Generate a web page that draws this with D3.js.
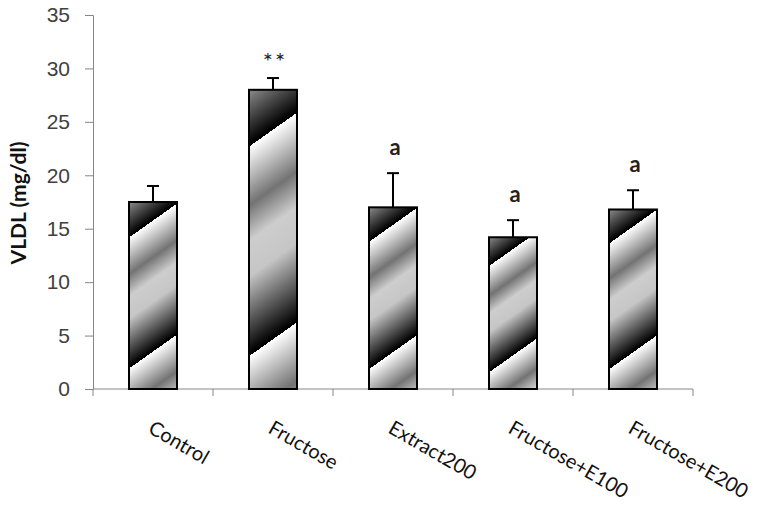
<!DOCTYPE html>
<html>
<head>
<meta charset="utf-8">
<script src="https://cdn.jsdelivr.net/npm/d3@7"></script>
<style>
  body { margin: 0; background: #fff; }
  svg { display: block; font-family: Lato, "Noto Sans", sans-serif; }
</style>
</head>
<body>
<div class="chart"></div>
<script>
var categories = ['Control', 'Fructose', 'Extract200', 'Fructose+E100', 'Fructose+E200'];
var means = [17.5, 28, 17, 14.2, 16.8];
var errors = [1.5, 1.1, 3.2, 1.6, 1.8];
var marks = ['', '**', 'a', 'a', 'a'];
var yTicks = [0, 5, 10, 15, 20, 25, 30, 35];

var width = 762, height = 508;

var svg = d3.select('.chart')
.append('svg')
.attr('width', width)
.attr('height', height);

var x = d3.scaleBand().domain(categories).range([93, 693]).paddingInner(0.6).paddingOuter(0.3);
var y = d3.scaleLinear().domain([0, 35]).range([389, 15]);

// axes
var yAxis = svg.append('g')
.attr('transform', 'translate(93,0)')
.call(d3.axisLeft(y).tickValues(yTicks).tickSize(8).tickPadding(15));
yAxis.select('.domain').attr('stroke', '#868686');
yAxis.selectAll('.tick line').attr('stroke', '#868686');
yAxis.selectAll('.tick text').attr('fill', '#404040').style('font-size', '21px');

var xAxis = svg.append('g')
.attr('transform', 'translate(0,389)');
xAxis.append('line').attr('x1', 93).attr('x2', 693).attr('stroke', '#868686');
// ticks at category boundaries
xAxis.selectAll('.bt')
.data(d3.range(categories.length + 1))
.enter().append('line')
.attr('x1', function(i) { return x.range()[0] + x.step() * i; })
.attr('x2', function(i) { return x.range()[0] + x.step() * i; })
.attr('y1', 0).attr('y2', 7)
.attr('stroke', '#868686');

// gradients, one per bar so the stripes keep the same slope
var defs = svg.append('defs');
categories.forEach(function(c, i) {
  var x0 = x(c);
  var top = y(means[i]), h = y(0) - top;
  var nx = 34 / 58.8, ny = 48 / 58.8;
  var per = 0.7 * h * ny;
  var g = defs.append('linearGradient')
  .attr('id', 'grad' + i)
  .attr('gradientUnits', 'userSpaceOnUse')
  .attr('spreadMethod', 'repeat')
  .attr('x1', x0).attr('y1', top + 0.19 * h)
  .attr('x2', x0 + nx * per).attr('y2', top + 0.19 * h + ny * per);
  [[0, '#ffffff'], [0.28, '#737373'], [0.45, '#cdcdcd'], [0.62, '#c6c6c6'], [0.99, '#000000'], [1, '#000000']]
  .forEach(function(s) {
    g.append('stop').attr('offset', s[0]).attr('stop-color', s[1]);
  });
});

// bars
svg.selectAll('.bar')
.data(categories)
.enter().append('rect')
.attr('class', 'bar')
.attr('x', function(c) { return x(c); })
.attr('y', function(c, i) { return y(means[i]); })
.attr('width', x.bandwidth())
.attr('height', function(c, i) { return y(0) - y(means[i]); })
.attr('fill', function(c, i) { return 'url(#grad' + i + ')'; })
.attr('stroke', '#000')
.attr('stroke-width', 2);

// error bars (upper only)
var eb = svg.selectAll('.err')
.data(categories)
.enter().append('g')
.attr('class', 'err')
.attr('stroke', '#000')
.attr('stroke-width', 2);
eb.append('line')
.attr('x1', function(c) { return x(c) + x.bandwidth() / 2; })
.attr('x2', function(c) { return x(c) + x.bandwidth() / 2; })
.attr('y1', function(c, i) { return y(means[i]); })
.attr('y2', function(c, i) { return y(means[i] + errors[i]); });
eb.append('line')
.attr('x1', function(c) { return x(c) + x.bandwidth() / 2 - 6; })
.attr('x2', function(c) { return x(c) + x.bandwidth() / 2 + 6; })
.attr('y1', function(c, i) { return y(means[i] + errors[i]); })
.attr('y2', function(c, i) { return y(means[i] + errors[i]); });

// significance marks
svg.selectAll('.mark')
.data(categories)
.enter().append('text')
.attr('class', 'mark')
.attr('x', function(c) { return x(c) + x.bandwidth() / 2 + 2; })
.attr('y', function(c, i) { return y(means[i] + errors[i]) - (marks[i] == '**' ? 8 : 18); })
.attr('text-anchor', 'middle')
.style('font-size', function(c, i) { return marks[i] == '**' ? '24px' : '22px'; })
.style('font-weight', function(c, i) { return marks[i] == '**' ? 'normal' : 'bold'; })
.style('letter-spacing', function(c, i) { return marks[i] == '**' ? '2px' : '0'; })
.attr('fill', '#222')
.text(function(c, i) { return marks[i]; });

// category labels
svg.selectAll('.cat')
.data(categories)
.enter().append('text')
.attr('class', 'cat')
.attr('transform', function(c) {
  return 'translate(' + (x(c) + x.bandwidth() / 2 - 6) + ',432) rotate(30)';
})
.style('font-size', '20px')
.attr('fill', '#111')
.text(function(c) { return c; });

// y label
svg.append('text')
.attr('transform', 'translate(26,203) rotate(-90)')
.attr('text-anchor', 'middle')
.style('font-size', '21px')
.style('font-weight', 'bold')
.attr('fill', '#111')
.text('VLDL (mg/dl)');
</script>
</body>
</html>
